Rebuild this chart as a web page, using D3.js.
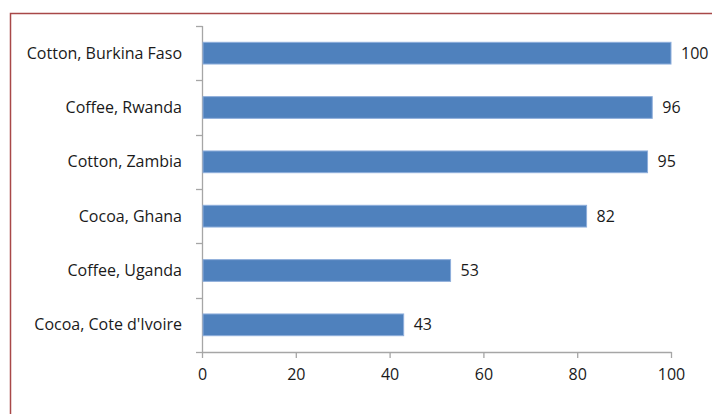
<!DOCTYPE html>
<html>
<head>
<meta charset="utf-8">
<script src="https://cdn.jsdelivr.net/npm/d3@7"></script>
<style>
  body { margin: 0; background: #fff; }
  text { font-family: "Open Sans", Lato, sans-serif; fill: #1a1a1a; }
</style>
</head>
<body>
<div id="chart"></div>
<script>
// chart data
var categories = ["Cotton, Burkina Faso", "Coffee, Rwanda", "Cotton, Zambia", "Cocoa, Ghana", "Coffee, Uganda", "Cocoa, Cote d'Ivoire"];
var values = [100, 96, 95, 82, 53, 43];
var xTicks = [0, 20, 40, 60, 80, 100];

var svgWidth = 712;
var svgHeight = 414;
var margin = { top: 26, right: 41, bottom: 62, left: 202 };
var width = svgWidth - margin.left - margin.right;
var height = svgHeight - margin.top - margin.bottom;
var fontSize = "16px";

var svg = d3.select("#chart")
  .append("svg")
  .attr("width", svgWidth)
  .attr("height", svgHeight);

// frame (only top and left edges fall inside the picture)
svg.append("rect")
  .attr("x", 10.5)
  .attr("y", 13.5)
  .attr("width", 720)
  .attr("height", 420)
  .attr("fill", "none")
  .attr("stroke", "#a84848")
  .attr("stroke-width", 1.5);

var chartGroup = svg.append("g")
  .attr("transform", `translate(${margin.left}, ${margin.top})`);

var xScale = d3.scaleLinear()
  .domain([0, 100])
  .range([0, width]);

var yScale = d3.scaleBand()
  .domain(categories)
  .range([0, height])
  .paddingInner(0.6)
  .paddingOuter(0.3);

// y axis line with tick marks on category boundaries
var yLine = d3.scaleBand().domain(categories).range([0, height]);
chartGroup.append("line")
  .attr("x1", 0.5).attr("x2", 0.5)
  .attr("y1", 0).attr("y2", height)
  .attr("stroke", "#a6a6a6").attr("stroke-width", 1.3);
chartGroup.selectAll(".ytick")
  .data(categories.concat(["end"]))
  .enter()
  .append("line")
  .attr("class", "ytick")
  .attr("x1", -6).attr("x2", 0.5)
  .attr("y1", (d, i) => Math.round(i * yLine.step()) + 0.5)
  .attr("y2", (d, i) => Math.round(i * yLine.step()) + 0.5)
  .attr("stroke", "#a6a6a6").attr("stroke-width", 1.3);

// x axis
var xAxis = d3.axisBottom(xScale).tickValues(xTicks).tickSize(6).tickPadding(11);
var xg = chartGroup.append("g")
  .attr("transform", `translate(0, ${height})`)
  .call(xAxis);
xg.select(".domain").attr("stroke", "#a6a6a6").attr("stroke-width", 1.3).attr("d", `M0.5,0.5H${width + 0.5}`);
xg.selectAll(".tick line").attr("stroke", "#a6a6a6").attr("stroke-width", 1.3);
xg.selectAll(".tick text")
  .attr("font-size", fontSize)
  .attr("font-family", "'Open Sans', Lato, sans-serif")
  .attr("fill", "#1a1a1a");

// category labels
chartGroup.selectAll(".cat")
  .data(categories)
  .enter()
  .append("text")
  .attr("class", "cat")
  .attr("x", -20)
  .attr("y", d => yScale(d) + yScale.bandwidth() / 2)
  .attr("dy", "0.35em")
  .attr("text-anchor", "end")
  .attr("font-size", fontSize)
  .text(d => d);

// bars
chartGroup.selectAll(".bar")
  .data(values)
  .enter()
  .append("rect")
  .attr("class", "bar")
  .attr("x", xScale(0) + 1)
  .attr("y", (d, i) => yScale(categories[i]))
  .attr("width", d => xScale(d) - xScale(0) - 1)
  .attr("height", yScale.bandwidth())
  .attr("fill", "#4f81bd")
  .attr("stroke", "#8eaedb")
  .attr("stroke-width", 1);

// value labels
chartGroup.selectAll(".val")
  .data(values)
  .enter()
  .append("text")
  .attr("class", "val")
  .attr("x", d => xScale(d) + 10)
  .attr("y", (d, i) => yScale(categories[i]) + yScale.bandwidth() / 2)
  .attr("dy", "0.35em")
  .attr("font-size", fontSize)
  .text(d => d);
</script>
</body>
</html>
